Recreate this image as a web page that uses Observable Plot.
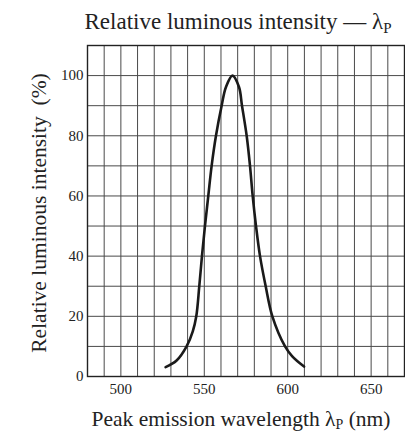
<!DOCTYPE html>
<html>
<head>
<meta charset="utf-8">
<script src="https://cdn.jsdelivr.net/npm/d3@7"></script>
<script src="https://cdn.jsdelivr.net/npm/@observablehq/plot@0.6"></script>
<style>
  html, body { margin: 0; padding: 0; background: #fff; }
  svg text { font-family: "Liberation Serif", "DejaVu Serif", serif; }
</style>
</head>
<body>
<div id="chart"></div>
<script>
// Data
const wavelength = [526.8, 533.4, 539.4, 543.1, 545.2, 547.0, 548.6, 550.4, 552.4, 554.4, 557.0, 560.4, 563.0, 566.9, 570.8, 572.6, 575.4, 577.4, 579.0, 581.0, 583.4, 586.8, 590.8, 598.4, 602.6, 609.8];
const intensity  = [3.1, 5.3, 10, 15, 20, 30, 40, 50, 60, 70, 80, 90, 96.2, 100, 96.2, 90, 80, 70, 60, 50, 40, 30, 20, 10, 6.8, 3.3];
const xTicks = [500, 550, 600, 650];
const yTicks = [0, 20, 40, 60, 80, 100];
const xGrid = d3.range(480, 671, 10);
const yGrid = d3.range(0, 111, 10);

const data = wavelength.map((w, i) => ({w, v: intensity[i]}));

const chart = Plot.plot({
  width: 405,
  height: 436,
  marginLeft: 87,
  marginRight: 1,
  marginTop: 45,
  marginBottom: 60,
  style: {fontFamily: "Liberation Serif", background: "#fff", color: "#222"},
  x: {domain: [480, 670]},
  y: {domain: [0, 110]},
  marks: [
    Plot.ruleX(xGrid, {stroke: "#4a4a4a", strokeWidth: 1}),
    Plot.ruleY(yGrid, {stroke: "#4a4a4a", strokeWidth: 1}),
    Plot.frame({stroke: "#222", strokeWidth: 1.4}),
    Plot.axisX({ticks: xTicks, tickSize: 0, tickPadding: 7, label: null, fontSize: 15, fontFamily: "Liberation Serif", fill: "#222"}),
    Plot.axisY({ticks: yTicks, tickSize: 0, tickPadding: 4, label: null, fontSize: 15, fontFamily: "Liberation Serif", fill: "#222"}),
    Plot.line(data, {x: "w", y: "v", curve: "catmull-rom", stroke: "#1a1a1a", strokeWidth: 2.6})
  ]
});

document.getElementById("chart").appendChild(chart);

const svg = d3.select(chart);
// Title
const t = svg.append("text")
  .attr("x", 238).attr("y", 29)
  .attr("text-anchor", "middle")
  .attr("font-size", 23)
  .attr("fill", "#222");
t.append("tspan").text("Relative luminous intensity — λ");
t.append("tspan").text("P").attr("font-size", 15).attr("dy", 4);

// X label
const xl = svg.append("text")
  .attr("x", 241).attr("y", 426)
  .attr("text-anchor", "middle")
  .attr("font-size", 21.5)
  .attr("fill", "#222");
xl.append("tspan").text("Peak emission wavelength λ");
xl.append("tspan").text("P").attr("font-size", 14).attr("dy", 3);
xl.append("tspan").text(" (nm)").attr("dy", -3);

// Y label
svg.append("text")
  .attr("transform", "translate(46,213) rotate(-90)")
  .attr("text-anchor", "middle")
  .attr("font-size", 21.5)
  .attr("fill", "#222")
  .attr("xml:space", "preserve")
  .style("white-space", "pre")
  .text("Relative luminous intensity  (%)");
</script>
</body>
</html>
